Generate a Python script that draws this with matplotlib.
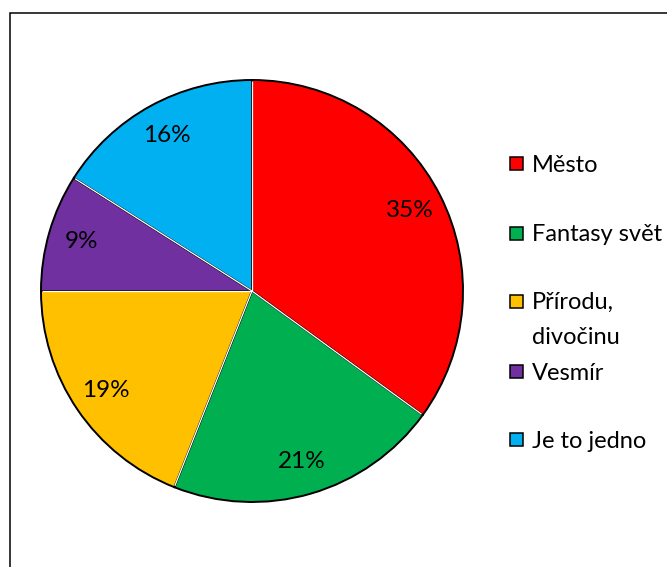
import numpy as np
import matplotlib
matplotlib.use("Agg")
import matplotlib.pyplot as plt
from matplotlib.patches import Rectangle

categories = ["Město", "Fantasy svět", "Přírodu,\ndivočinu", "Vesmír", "Je to jedno"]
values = [35, 21, 19, 9, 16]
colors = ["#FF0000", "#00B050", "#FFC000", "#7030A0", "#00B0F0"]

plt.rcParams['font.family'] = ['Lato', 'DejaVu Sans']

W, H = 667, 567
fig = plt.figure(figsize=(W / 100, H / 100), dpi=100)

def fx(px):
    return px / W

def fy(py):
    return 1 - py / H

# chart frame (cropped at right and bottom)
fig.add_artist(Rectangle((fx(10), -0.2), 1.5, fy(13) + 0.2, transform=fig.transFigure,
                         fill=False, edgecolor="#000000", linewidth=1.1))

# pie axes
cx, cy, r = 252, 291, 211
ax = fig.add_axes([fx(cx - r), fy(cy + r), 2 * r / W, 2 * r / H])
wedges, texts, autotexts = ax.pie(
    values, colors=colors, startangle=90, counterclock=False,
    autopct='%.0f%%', pctdistance=0.84,
    wedgeprops=dict(edgecolor="black", linewidth=1.4),
    textprops=dict(fontsize=17.5, color="black"))
for w in wedges:
    w.set_clip_on(False)
ax.set_xlim(-1, 1)
ax.set_ylim(-1, 1)
ax.set_aspect('equal')

# white separator lines between slices (Excel style)
cum = np.cumsum([0] + values)
for c in cum[:-1]:
    ang = np.deg2rad(90 - 360 * c / sum(values))
    ax.plot([0, 0.993 * np.cos(ang)], [0, 0.993 * np.sin(ang)], color="white",
            linewidth=0.9, clip_on=False, solid_capstyle='butt')

# legend (manual, Excel-like)
marker_y = [163.5, 233, 301, 371.5, 439.5]
mx0, msz = 510, 13
tx = 532
for cat, col, my in zip(categories, colors, marker_y):
    fig.add_artist(Rectangle((fx(mx0), fy(my + msz / 2)), msz / W, msz / H,
                             transform=fig.transFigure, facecolor=col,
                             edgecolor="black", linewidth=1.1))
    for i, line in enumerate(cat.split("\n")):
        fig.text(fx(tx), fy(my + 8 + 35 * i), line, fontsize=17,
                 va='baseline', ha='left', color="black")

fig.savefig("out.png", dpi=100)
